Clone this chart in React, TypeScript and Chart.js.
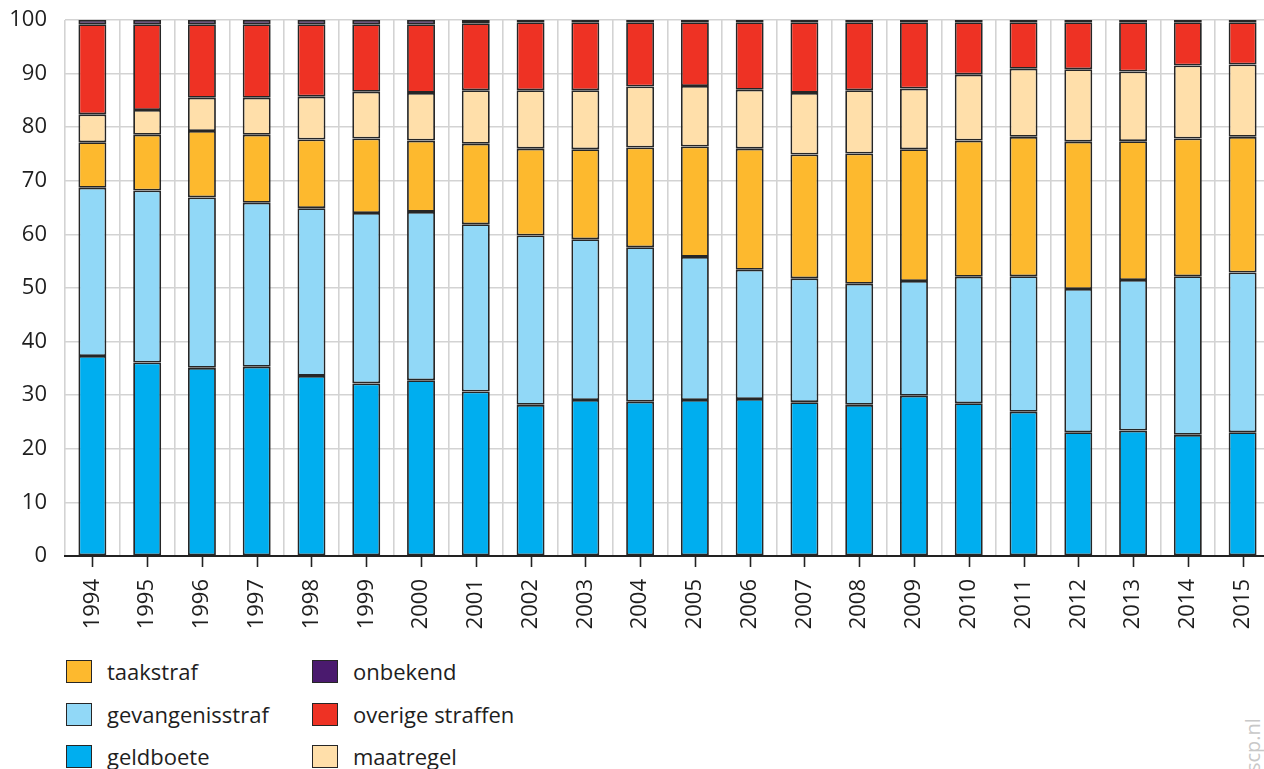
import React, { useEffect, useRef } from "react";
import { Chart, registerables } from "chart.js";

Chart.register(...registerables);

const years = ["1994","1995","1996","1997","1998","1999","2000","2001","2002","2003","2004","2005","2006","2007","2008","2009","2010","2011","2012","2013","2014","2015"];

const geldboete = [37.3,36.1,35.1,35.3,33.6,32.2,32.8,30.7,28.2,29.1,28.8,29.1,29.3,28.7,28.2,29.9,28.5,26.9,23.1,23.4,22.6,23.1];
const gevangenisstraf = [31.4,32.1,31.8,30.6,31.3,31.8,31.4,31.2,31.6,30.0,28.8,26.7,24.1,23.1,22.6,21.4,23.6,25.3,26.7,28.1,29.6,29.8];
const taakstraf = [8.5,10.4,12.4,12.7,12.8,13.9,13.3,15.0,16.2,16.8,18.6,20.6,22.6,23.1,24.3,24.6,25.4,26.0,27.5,25.9,25.7,25.3];
const maatregel = [5.2,4.6,6.2,6.9,8.0,8.7,8.9,10.0,10.9,11.0,11.4,11.3,11.0,11.5,11.8,11.3,12.3,12.7,13.5,13.0,13.6,13.5];
const overigeStraffen = [16.8,16.0,13.7,13.7,13.5,12.6,12.8,12.5,12.7,12.7,12.0,11.9,12.6,13.2,12.7,12.4,9.8,8.7,8.8,9.2,8.1,7.9];
const onbekend = [0.8,0.8,0.8,0.8,0.8,0.8,0.8,0.6,0.4,0.4,0.4,0.4,0.4,0.4,0.4,0.4,0.4,0.4,0.4,0.4,0.4,0.4];

const yTicks = [0,10,20,30,40,50,60,70,80,90,100];

const COLORS = {
  geldboete: "#00AEEF",
  gevangenisstraf: "#91D8F7",
  taakstraf: "#FDB92E",
  maatregel: "#FFDFAA",
  overige: "#EE3224",
  onbekend: "#4A1A6E",
};
const BORDER = "#262626";
const FONT = "'Open Sans', 'DejaVu Sans', sans-serif";

const legendItems = [
  { label: "taakstraf", color: COLORS.taakstraf, col: 0, row: 0 },
  { label: "gevangenisstraf", color: COLORS.gevangenisstraf, col: 0, row: 1 },
  { label: "geldboete", color: COLORS.geldboete, col: 0, row: 2 },
  { label: "onbekend", color: COLORS.onbekend, col: 1, row: 0 },
  { label: "overige straffen", color: COLORS.overige, col: 1, row: 1 },
  { label: "maatregel", color: COLORS.maatregel, col: 1, row: 2 },
];

const centerTicks = {
  id: "centerTicks",
  afterDraw(chart: any) {
    const xs = chart.scales.x;
    const ctx = chart.ctx;
    ctx.save();
    ctx.strokeStyle = "#222";
    ctx.lineWidth = 1.6;
    for (let i = 0; i < years.length; i++) {
      const px = Math.round(xs.getPixelForValue(i)) + 0.5;
      ctx.beginPath();
      ctx.moveTo(px, xs.top);
      ctx.lineTo(px, xs.top + 11);
      ctx.stroke();
    }
    ctx.restore();
  },
};

export default function App() {
  const ref = useRef<HTMLCanvasElement | null>(null);

  useEffect(() => {
    if (!ref.current) return;
    const ds = (label: string, data: number[], color: string) => ({
      label,
      data,
      backgroundColor: color,
      borderColor: BORDER,
      borderWidth: 1.8,
      borderSkipped: false,
      categoryPercentage: 0.51,
      barPercentage: 1,
    });
    const chart = new Chart(ref.current, {
      type: "bar",
      data: {
        labels: years,
        datasets: [
          ds("geldboete", geldboete, COLORS.geldboete),
          ds("gevangenisstraf", gevangenisstraf, COLORS.gevangenisstraf),
          ds("taakstraf", taakstraf, COLORS.taakstraf),
          ds("maatregel", maatregel, COLORS.maatregel),
          ds("overige straffen", overigeStraffen, COLORS.overige),
          ds("onbekend", onbekend, COLORS.onbekend),
        ],
      },
      options: {
        responsive: false,
        animation: false,
        devicePixelRatio: 1,
        layout: { padding: { top: 20, left: 0, right: 0, bottom: 0 } },
        plugins: { legend: { display: false }, tooltip: { enabled: false } },
        scales: {
          x: {
            stacked: true,
            grid: { offset: true, color: "#d3d3d3", lineWidth: 1.6, drawTicks: false },
            border: { display: true, color: "#222", width: 2 },
            ticks: {
              autoSkip: false,
              minRotation: 90,
              maxRotation: 90,
              padding: 23,
              color: "#1e1e1e",
              font: { family: FONT, size: 22 },
            },
            afterFit(scale: any) {
              scale.height = 84;
              scale.paddingLeft = 0;
              scale.paddingRight = 0;
            },
          },
          y: {
            stacked: true,
            min: 0,
            max: 100,
            afterBuildTicks(scale: any) { scale.ticks = yTicks.map((v) => ({ value: v })); },
            grid: { color: "#d3d3d3", lineWidth: 1.6, drawTicks: false },
            border: { display: false },
            ticks: {
              padding: 18,
              color: "#1e1e1e",
              font: { family: FONT, size: 22 },
            },
            afterFit(scale: any) {
              scale.width = 65;
              scale.paddingTop = 0;
              scale.paddingBottom = 0;
            },
          },
        },
      },
      plugins: [centerTicks],
    });
    return () => chart.destroy();
  }, []);

  return (
    <div style={{ position: "fixed", left: 0, top: 0, width: 1264, height: 769, overflow: "hidden", background: "#fff", fontFamily: FONT }}>
      <canvas ref={ref} width={1270} height={640} style={{ position: "absolute", left: 0, top: 0, width: 1270, height: 640 }} />
      {legendItems.map((it) => {
        const left = it.col === 0 ? 66 : 312;
        const top = 660 + it.row * 42.5;
        return (
          <React.Fragment key={it.label}>
            <div style={{ position: "absolute", left, top, width: 24, height: 21, background: it.color, border: `1.6px solid ${BORDER}` }} />
            <div style={{ position: "absolute", left: left + 41, top: top - 6, height: 34, lineHeight: "34px", fontSize: 22, color: "#1e1e1e", whiteSpace: "nowrap" }}>{it.label}</div>
          </React.Fragment>
        );
      })}
      <div style={{ position: "absolute", left: 1243, top: 772, transform: "rotate(-90deg)", transformOrigin: "left top", fontSize: 20, color: "#c8c8c8", whiteSpace: "nowrap", lineHeight: "20px" }}>
        scp.nl
      </div>
    </div>
  );
}
